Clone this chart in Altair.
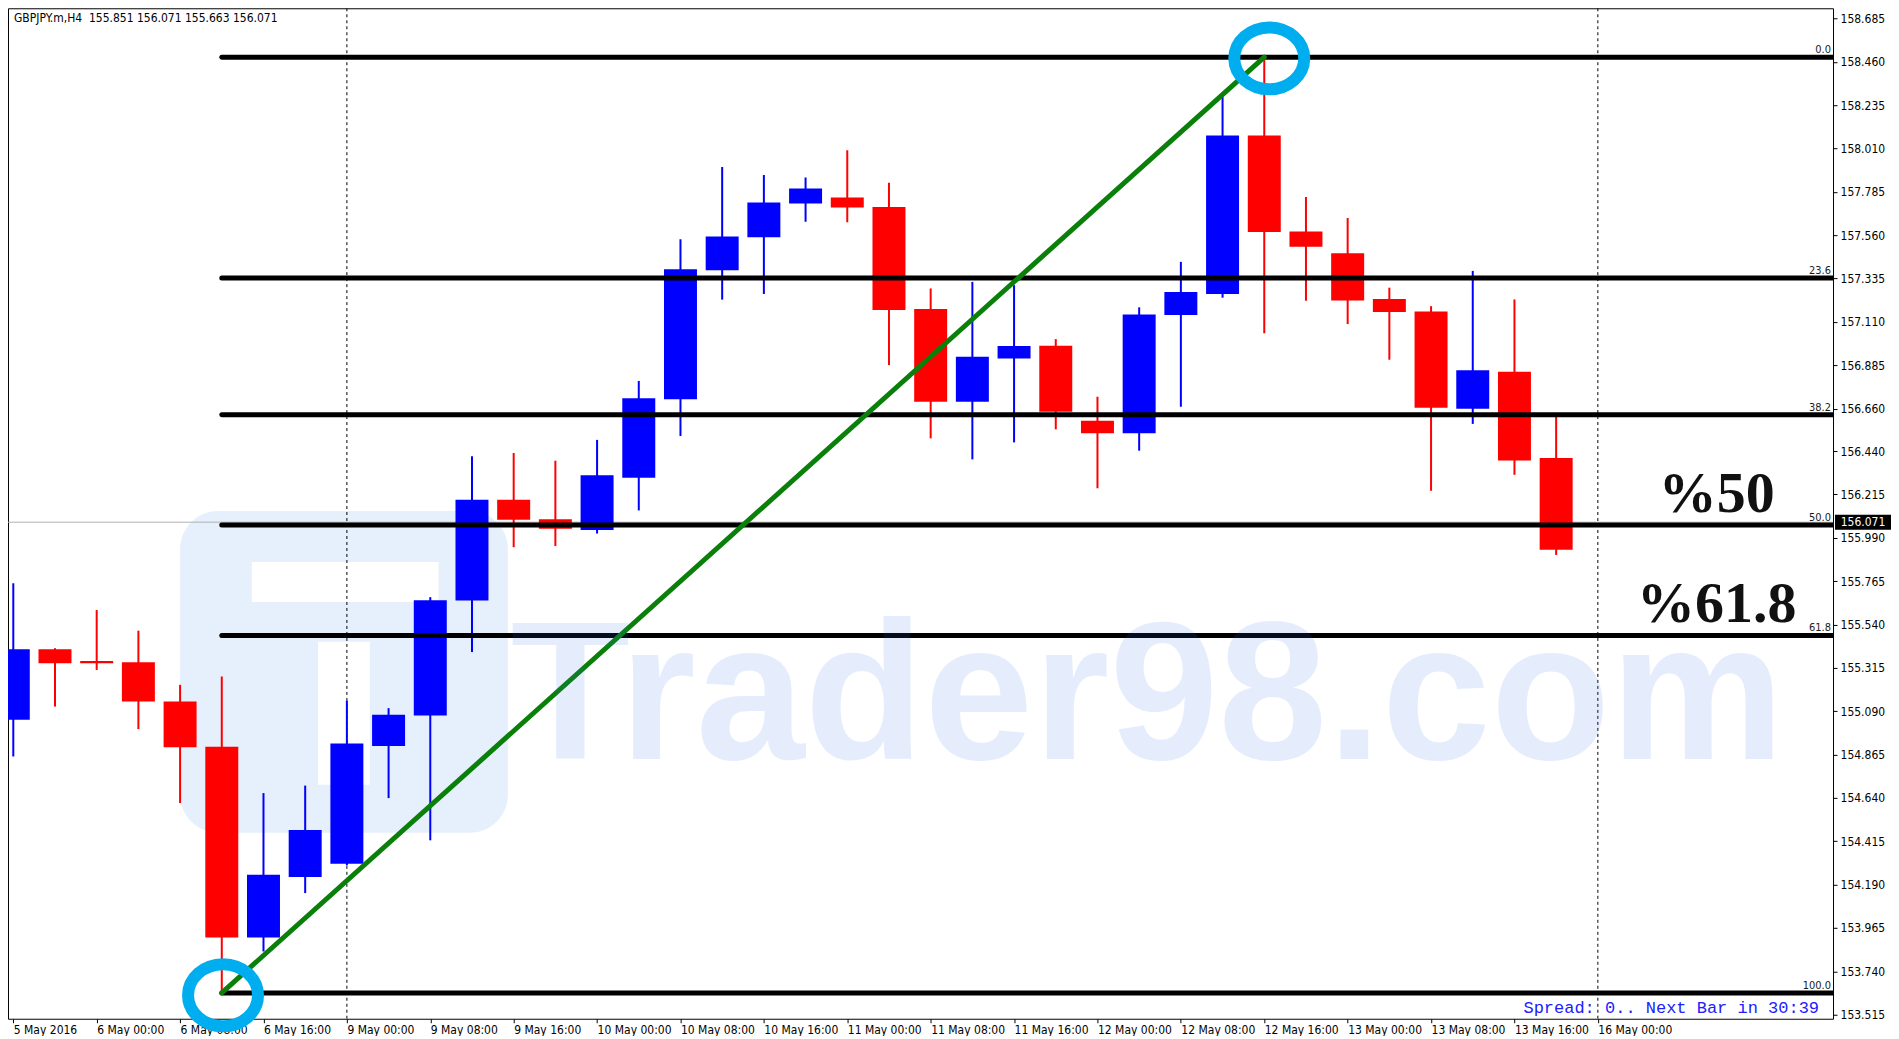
import json
import altair as alt
import pandas as pd

# ---------------- data ----------------
bar_index = list(range(38))
open_ = [155.045, 155.412, 155.351, 155.344, 155.140, 154.906, 153.916, 154.229, 154.298, 154.910,
         155.068, 155.664, 156.188, 156.086, 156.030, 156.302, 156.709, 157.379, 157.550, 157.725,
         157.756, 157.707, 157.177, 156.696, 156.921, 156.986, 156.597, 156.532, 157.146, 157.255,
         158.078, 157.580, 157.466, 157.229, 157.164, 156.659, 156.852, 156.404]
high = [155.754, 155.417, 155.615, 155.508, 155.227, 155.270, 154.665, 154.704, 155.145, 155.106,
        155.682, 156.413, 156.430, 156.390, 156.498, 156.804, 157.539, 157.914, 157.873, 157.860,
        158.001, 157.832, 157.284, 157.318, 157.301, 157.021, 156.722, 157.186, 157.422, 158.278,
        158.484, 157.758, 157.649, 157.288, 157.192, 157.375, 157.227, 156.618]
low = [154.855, 155.114, 155.304, 154.997, 154.613, 153.628, 153.843, 154.146, 154.290, 154.639,
       154.420, 155.397, 155.941, 155.947, 156.012, 156.132, 156.518, 157.226, 157.255, 157.630,
       157.628, 156.886, 156.506, 156.397, 156.485, 156.553, 156.247, 156.442, 156.670, 157.236,
       157.051, 157.220, 157.099, 156.914, 156.234, 156.581, 156.317, 155.901]
close = [155.412, 155.339, 155.339, 155.140, 154.903, 153.916, 154.241, 154.474, 154.922, 155.071,
         155.666, 156.188, 156.084, 156.037, 156.314, 156.714, 157.384, 157.554, 157.730, 157.803,
         157.704, 157.172, 156.696, 156.929, 156.985, 156.644, 156.532, 157.149, 157.266, 158.078,
         157.577, 157.501, 157.221, 157.162, 156.665, 156.859, 156.391, 155.928]

x_tick_index = list(range(0, 39, 2))
x_tick_labels = ["5 May 2016", "6 May 00:00", "6 May 08:00", "6 May 16:00", "9 May 00:00",
                 "9 May 08:00", "9 May 16:00", "10 May 00:00", "10 May 08:00", "10 May 16:00",
                 "11 May 00:00", "11 May 08:00", "11 May 16:00", "12 May 00:00", "12 May 08:00",
                 "12 May 16:00", "13 May 00:00", "13 May 08:00", "13 May 16:00", "16 May 00:00"]
y_tick_values = [158.685, 158.460, 158.235, 158.010, 157.785, 157.560, 157.335, 157.110, 156.885,
                 156.660, 156.440, 156.215, 155.990, 155.765, 155.540, 155.315, 155.090, 154.865,
                 154.640, 154.415, 154.190, 153.965, 153.740, 153.515]
separator_index = [8, 38]

fib_levels = [0.0, 23.6, 38.2, 50.0, 61.8, 100.0]
fib_level_text = ["0.0", "23.6", "38.2", "50.0", "61.8", "100.0"]
swing_index = [5, 30]
swing_price = [153.628, 158.484]
ring_index = [5.03, 30.12]
ring_price = [153.616, 158.478]
current_price = 156.071
big_label_levels = [50.0, 61.8]
big_label_text = ["%50", "%61.8"]
big_label_index = [40.85, 40.85]

header_text = "GBPJPY.m,H4\u00a0\u00a0155.851 156.071 155.663 156.071"
spread_text = "Spread: 0.. Next Bar in 30:39"
watermark_text = ["Trader98.com"]
watermark_index = [27.2]
watermark_price = [154.84]
# logo of the watermark (in chart units)
logo_x = [4.0]; logo_x2 = [11.86]; logo_y = [156.129]; logo_y2 = [154.459]
logo_bar_x = [5.72, 7.31]; logo_bar_x2 = [10.2, 8.55]
logo_bar_y = [155.864, 155.45]; logo_bar_y2 = [155.657, 154.708]

# ---------------- layout ----------------
W, H = 1826, 1011
FONT = "DejaVu Sans Condensed, DejaVu Sans, sans-serif"
Y_DOMAIN = [153.494, 158.738]

x_scale = alt.Scale(domain=[-0.007, 43.52], nice=False, zero=False)
y_scale = alt.Scale(domain=Y_DOMAIN, nice=False, zero=False)

label_expr = "%s[round(datum.value / 2)]" % json.dumps(x_tick_labels)
x_axis = alt.Axis(orient="bottom", values=x_tick_index, labelExpr=label_expr, title=None,
                  grid=False, domain=False, tickSize=4, tickColor="black", labelAlign="left",
                  labelBaseline="top", labelPadding=2, labelFont=FONT, labelFontSize=12,
                  labelColor="black", labelOverlap=False, labelFlush=False)
y_axis = alt.Axis(orient="right", values=y_tick_values, format=".3f", title=None, grid=False,
                  domain=False, tickSize=4, tickColor="black", labelPadding=3, labelFont=FONT,
                  labelFontSize=12, labelColor="black", labelOverlap=False, labelFlush=False)


def X(f):
    return alt.X(f, type="quantitative", scale=x_scale, axis=x_axis)


def Y(f):
    return alt.Y(f, type="quantitative", scale=y_scale, axis=y_axis)


candles = pd.DataFrame({"i": bar_index, "open": open_, "high": high, "low": low, "close": close})
candles["dir"] = ["up" if c >= o else "down" for o, c in zip(open_, close)]
color = alt.Color("dir:N", scale=alt.Scale(domain=["up", "down"], range=["#0000FF", "#FF0000"]),
                  legend=None)

lo, hi = swing_price[0], swing_price[1]
fib = pd.DataFrame({"level": fib_levels, "txt": fib_level_text})
fib["price"] = [hi - lv / 100.0 * (hi - lo) for lv in fib_levels]
fib["x0"] = swing_index[0]
fib["x1"] = 44

big = pd.DataFrame({"txt": big_label_text, "i": big_label_index,
                    "price": [hi - lv / 100.0 * (hi - lo) for lv in big_label_levels]})

rings = pd.DataFrame({"i": ring_index, "price": ring_price})
trend = pd.DataFrame({"i": [swing_index[0]], "p": [swing_price[0]],
                      "i2": [swing_index[1]], "p2": [swing_price[1]]})

logo = pd.DataFrame({"x": logo_x, "x2": logo_x2, "y": logo_y, "y2": logo_y2})
logo_bars = pd.DataFrame({"x": logo_bar_x, "x2": logo_bar_x2, "y": logo_bar_y, "y2": logo_bar_y2})
wm = pd.DataFrame({"t": watermark_text, "i": watermark_index, "p": watermark_price})

# price tag box: 15 px tall, converted to price units through the plot's own scale
half_box = 7.5 * (Y_DOMAIN[1] - Y_DOMAIN[0]) / H
cur = pd.DataFrame({"p": [current_price], "t": ["%.3f" % current_price],
                    "p_hi": [current_price + half_box], "p_lo": [current_price - half_box]})
seps = pd.DataFrame({"i": separator_index})

layers = []

layers.append(alt.Chart(logo).mark_rect(cornerRadius=38, color="#E6EFFC", clip=True).encode(
    x=X("x"), x2="x2", y=Y("y"), y2="y2"))
layers.append(alt.Chart(logo_bars).mark_rect(color="#FFFFFF", clip=True).encode(
    x=X("x"), x2="x2", y=Y("y"), y2="y2"))

layers.append(alt.Chart(cur).mark_rule(color="#B0B0B0", strokeWidth=1, clip=True).encode(y=Y("p")))
layers.append(alt.Chart(seps).mark_rule(color="#000000", strokeWidth=1, strokeDash=[3, 3],
                                        clip=True).encode(x=X("i")))

layers.append(alt.Chart(candles).mark_rule(strokeWidth=2, clip=True).encode(
    x=X("i"), y=Y("low"), y2="high", color=color))
layers.append(alt.Chart(candles).mark_bar(size=33, clip=True).encode(
    x=X("i"), y=Y("open"), y2="close", color=color))

layers.append(alt.Chart(fib).mark_rule(strokeWidth=5, color="#000000", strokeCap="round",
                                       clip=True).encode(
    x=X("x0"), x2="x1", y=Y("price")))
layers.append(alt.Chart(trend).mark_rule(strokeWidth=5, color="#0A800A", strokeCap="round",
                                         strokeJoin="round").encode(
    x=X("i"), y=Y("p"), x2="i2", y2="p2"))

layers.append(alt.Chart(wm).mark_text(font="Liberation Sans, Arial, sans-serif",
                                      fontWeight="bold", fontSize=196, color="#3070E8",
                                      opacity=0.12, align="center", baseline="alphabetic",
                                      clip=True).encode(
    x=X("i"), y=Y("p"), text="t:N"))

ellipse = "M-1,0A1,0.886,0,1,1,1,0A1,0.886,0,1,1,-1,0Z"
layers.append(alt.Chart(rings).mark_point(shape=ellipse, size=4900, filled=False, strokeWidth=12,
                                          strokeJoin="round", color="#00AEEF", opacity=1).encode(
    x=X("i"), y=Y("price")))

layers.append(alt.Chart(fib).mark_text(align="right", baseline="bottom", dy=-2, fontSize=11,
                                       font=FONT, color="#1A1A1A").encode(
    x=alt.value(W - 2), y=Y("price"), text="txt:N"))
layers.append(alt.Chart(big).mark_text(font="Liberation Serif, serif", fontWeight="bold", fontSize=58,
                                       color="#111111", align="center", baseline="alphabetic",
                                       dy=-13).encode(
    x=X("i"), y=Y("price"), text="txt:N"))

layers.append(alt.Chart(cur).mark_rect(color="#000000").encode(
    x=alt.value(W + 2), x2=alt.value(W + 58), y=Y("p_hi"), y2="p_lo"))
layers.append(alt.Chart(cur).mark_text(color="#FFFFFF", font=FONT, fontSize=12, align="center",
                                       baseline="middle").encode(
    x=alt.value(W + 30), y=Y("p"), text="t:N"))

layers.append(alt.Chart(pd.DataFrame({"t": [header_text]})).mark_text(
    align="left", baseline="middle", font=FONT, fontSize=12, color="#000000").encode(
    x=alt.value(6), y=alt.value(10), text="t:N"))
layers.append(alt.Chart(pd.DataFrame({"t": [spread_text]})).mark_text(
    align="right", baseline="middle", font="Liberation Mono, monospace", fontSize=17,
    color="#2020FF").encode(
    x=alt.value(W - 14), y=alt.value(H - 11), text="t:N"))

chart = alt.layer(*layers).properties(
    width=W, height=H, padding={"left": 0, "top": 0, "right": 0, "bottom": 0},
    background="#FFFFFF"
).configure_view(stroke="#000000", strokeWidth=1)

chart.save("out.html", embed_options={"renderer": "svg", "actions": False})
